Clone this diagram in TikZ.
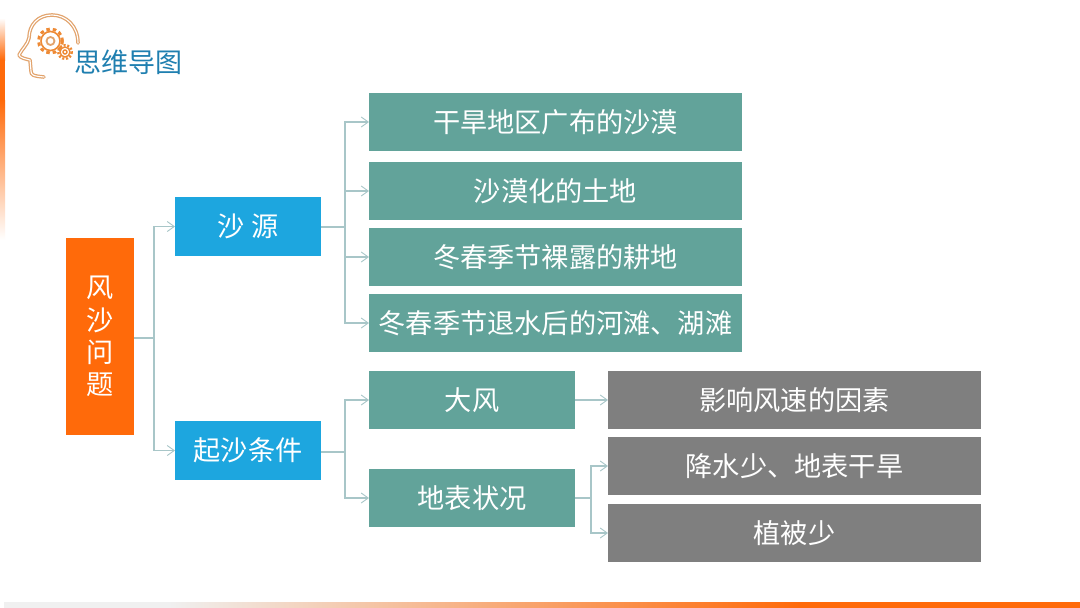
\documentclass[tikz,border=0pt]{standalone}
\usepackage{fontspec}
\setmainfont{Noto Sans CJK SC}
\usetikzlibrary{arrows.meta,fadings}
\definecolor{rootc}{HTML}{FF6A0A}
\definecolor{bluec}{HTML}{1DA6DF}
\definecolor{tealc}{HTML}{62A39A}
\definecolor{grayc}{HTML}{7F7F7F}
\definecolor{linkc}{HTML}{A8C6C8}
\definecolor{titlec}{HTML}{1F7FB0}
\definecolor{logoc}{HTML}{E2A36C}
\definecolor{gearc}{HTML}{EE8A35}
\tikzset{
  x=1pt,y=-1pt,
  boxbase/.style={inner sep=0pt,outer sep=0pt,text=white,font=\fontsize{27.2}{30}\selectfont,align=center},
  rootbox/.style={boxbase,fill=rootc,minimum width=68pt,minimum height=197pt},
  bluebox/.style={boxbase,fill=bluec,minimum width=146pt,minimum height=59pt},
  widebox/.style={boxbase,fill=tealc,minimum width=373pt,minimum height=58pt},
  midbox/.style={boxbase,fill=tealc,minimum width=206pt,minimum height=58pt},
  graybox/.style={boxbase,fill=grayc,minimum width=373pt,minimum height=58pt},
  link/.style={draw=linkc,line width=1.1pt,-{Straight Barb[length=7pt,width=10pt,line width=.9pt]}},
  stem/.style={draw=linkc,line width=1.1pt},
  headline/.style={line width=3.6pt,draw=logoc,line cap=round,line join=round},
  headin/.style={line width=1.1pt,draw=white,line cap=round,line join=round},
}
\begin{document}
\begin{tikzpicture}
\useasboundingbox (0,0) rectangle (1080,608);
\fill[white] (0,0) rectangle (1080,608);
% edge strips
\shade[top color=white,bottom color=rootc] (0,18) rectangle (5,60);
\fill[rootc] (0,60) rectangle (5,100);
\shade[top color=rootc,bottom color=white] (0,100) rectangle (5,240);
\fill[black!6] (4,602) rectangle (170,608);
\shade[left color=black!6,right color=rootc] (170,602) rectangle (800,608);
\fill[rootc] (800,602) rectangle (1080,608);
% logo
\def\headpath{(78,43) .. controls (78,26) and (66,15) .. (52,15) .. controls (38,15) and (29,25) .. (29,38) .. controls (28,44) and (22,49) .. (19,55) .. controls (20,58) and (26,59) .. (30,60) -- (31,71) .. controls (31,75) and (33,76) .. (44,77)}
\draw[headline] \headpath;
\draw[headin] \headpath;
\draw[gearc,line width=3pt,dash pattern=on 3.5pt off 3pt] (50.5,41) circle (12);
\draw[gearc,line width=1.6pt,fill=white] (50.5,41) circle (9.5);
\draw[logoc,line width=1.8pt] (50.5,41) circle (4);
\draw[gearc,line width=2.4pt,dash pattern=on 2pt off 1.8pt] (65,52) circle (6.8);
\draw[gearc,line width=1.4pt,fill=white] (65,52) circle (5);
\draw[gearc,line width=1.4pt] (65,52) circle (2);
\node[inner sep=0pt,text=titlec,font=\fontsize{27}{30}\selectfont] (title) at (128.5,62) {思维导图};
% nodes
\node[rootbox] (root) at (100,336.5) {\makebox[27pt]{风}\\[2.2pt]\makebox[27pt]{沙}\\[2.2pt]\makebox[27pt]{问}\\[2.2pt]\makebox[27pt]{题}};
\node[bluebox] (sy) at (248,226.5) {沙 源};
\node[bluebox] (qs) at (248,450.5) {起沙条件};
\node[widebox] (a1) at (555.5,122) {干旱地区广布的沙漠};
\node[widebox] (a2) at (555.5,191) {沙漠化的土地};
\node[widebox] (a3) at (555.5,257) {冬春季节裸露的耕地};
\node[widebox] (a4) at (555.5,323) {冬春季节退水后的河滩、湖滩};
\node[midbox] (df) at (472,400) {大风};
\node[midbox] (db) at (472,498) {地表状况};
\node[graybox] (g1) at (794.5,400) {影响风速的因素};
\node[graybox] (g2) at (794.5,466) {降水少、地表干旱};
\node[graybox] (g3) at (794.5,533) {植被少};
% junctions
\coordinate (j0) at (154,338);
\coordinate (j1) at (345,227);
\coordinate (j2) at (345,452);
\coordinate (j3) at (591,498);
% connectors
\draw[stem] (root.east |- j0) -- (j0);
\draw[link] (j0) |- (sy.west);
\draw[link] (j0) |- (qs.west);
\draw[stem] (sy.east |- j1) -- (j1);
\draw[link] (j1) |- (a1.west);
\draw[link] (j1) |- (a2.west);
\draw[link] (j1) |- (a3.west);
\draw[link] (j1) |- (a4.west);
\draw[stem] (qs.east |- j2) -- (j2);
\draw[link] (j2) |- (df.west);
\draw[link] (j2) |- (db.west);
\draw[link] (df.east) -- (g1.west);
\draw[stem] (db.east) -- (j3);
\draw[link] (j3) |- (g2.west);
\draw[link] (j3) |- (g3.west);
\end{tikzpicture}
\end{document}
